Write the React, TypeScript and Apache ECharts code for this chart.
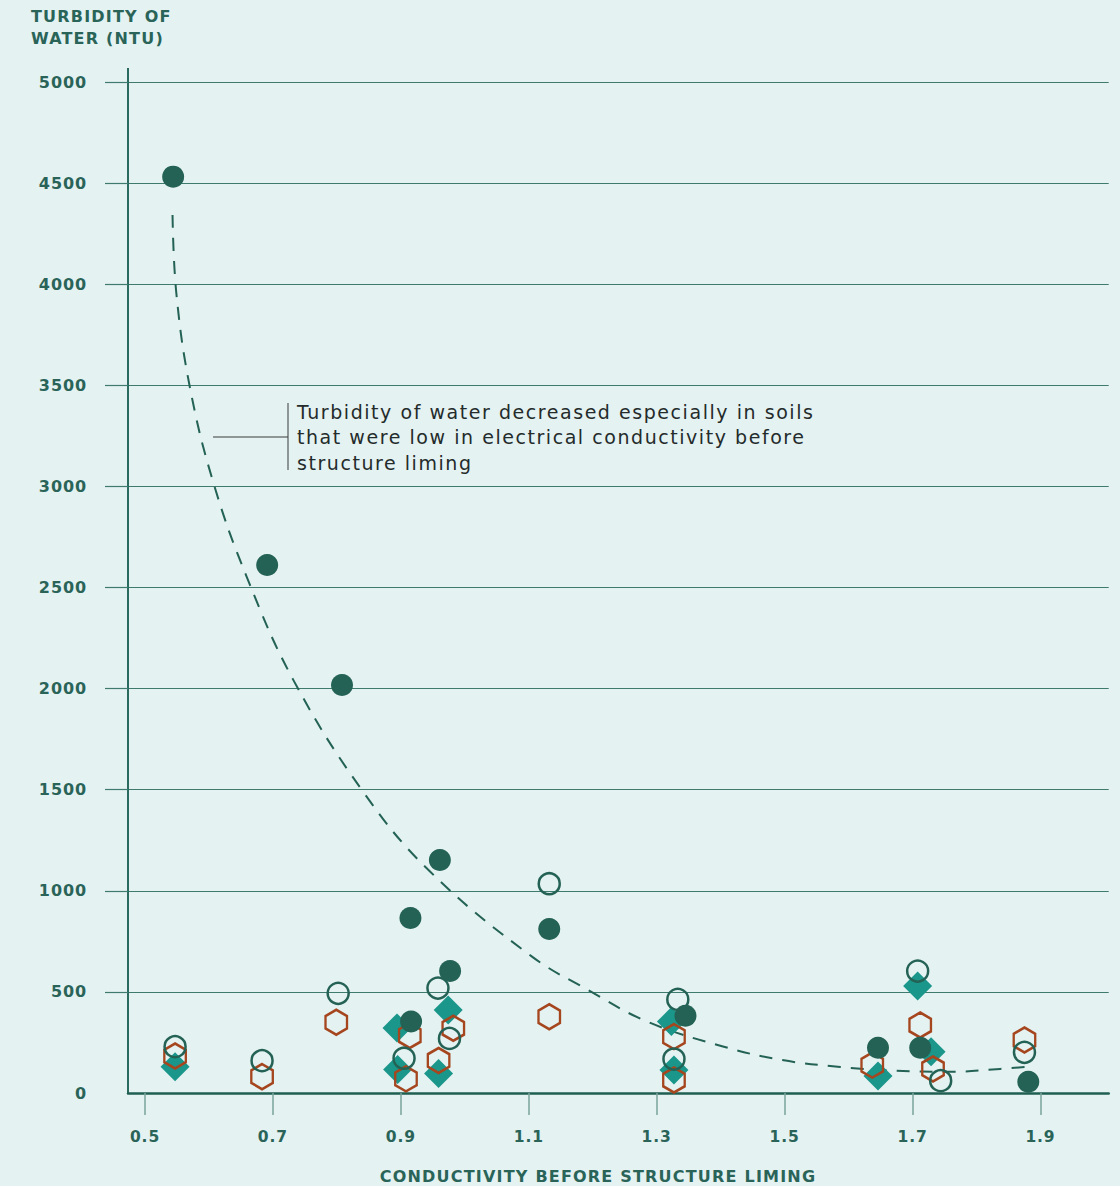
import React, { useEffect, useRef } from "react";
import * as echarts from "echarts";

// ---- data ----
const xTicks = [0.5, 0.7, 0.9, 1.1, 1.3, 1.5, 1.7, 1.9];
const yGridTicks = [500, 1000, 1500, 2000, 2500, 3000, 3500, 4000, 4500, 5000];

// filled dark circles
const filledPts = [
  [0.544, 4532], [0.691, 2611], [0.808, 2018], [0.961, 1152], [0.915, 865],
  [1.132, 811], [0.977, 603], [0.916, 354], [1.345, 382], [1.646, 224],
  [1.712, 224], [1.881, 56],
];
// open circles
const openPts = [
  [0.547, 229], [0.683, 160], [0.802, 493], [0.905, 172], [0.958, 519],
  [0.976, 270], [1.132, 1035], [1.333, 463], [1.327, 168], [1.708, 603],
  [1.744, 61], [1.875, 201],
];
// teal diamonds
const diamondPts = [
  [0.547, 130], [0.894, 322], [0.895, 116], [0.974, 410], [0.959, 97],
  [1.323, 353], [1.327, 114], [1.646, 84], [1.708, 529], [1.729, 204],
];
// orange hexagons
const hexPts = [
  [0.547, 183], [0.683, 81], [0.799, 350], [0.914, 284], [0.908, 70],
  [0.982, 320], [0.959, 161], [1.132, 377], [1.327, 279], [1.327, 64],
  [1.637, 138], [1.712, 336], [1.732, 119], [1.875, 262],
];
// dashed trend curve, sampled along the drawn line
const trendX = [
  0.543, 0.549, 0.570, 0.607, 0.659, 0.732, 0.841, 0.946, 1.104, 1.193,
  1.286, 1.405, 1.496, 1.587, 1.673, 1.757, 1.837, 1.877,
];
const trendY = [
  4342, 3955, 3493, 3017, 2553, 2042, 1490, 1094, 677, 509,
  352, 229, 163, 129, 110, 105, 119, 129,
];

const yTitle = "TURBIDITY OF\nWATER (NTU)";
const xTitle = "CONDUCTIVITY BEFORE STRUCTURE LIMING";
const noteLines = [
  "Turbidity of water decreased especially in soils",
  "that were low in electrical conductivity before",
  "structure liming",
];

const BG = "#e4f2f2";
const DARK = "#236255";
const TEAL = "#1a968a";
const ORANGE = "#a5461f";
const GRID = "#3f7a6e";
const LABEL = "#2a6459";
const FONT = "DejaVu Sans";
const HEX =
  "path://M0,-1L0.866,-0.5L0.866,0.5L0,1L-0.866,0.5L-0.866,-0.5Z";

function applySpacing(root: HTMLElement) {
  const titleLines = [xTitle, ...yTitle.split("\n")];
  root.querySelectorAll("text").forEach((t) => {
    const s = (t.textContent || "").trim();
    let ls = 0;
    if (noteLines.includes(s)) ls = 1.55;
    else if (titleLines.includes(s)) ls = 1.2;
    else if (/^[0-9.]+$/.test(s)) ls = 0.9;
    if (ls) t.setAttribute("letter-spacing", String(ls));
  });
}

export default function App() {
  const ref = useRef<HTMLDivElement>(null);

  useEffect(() => {
    document.body.style.margin = "0";
    const el = ref.current!;
    const chart = echarts.init(el, null, { renderer: "svg" });
    const scatterBase = { silent: true, emphasis: { disabled: true } };
    chart.setOption({
      animation: false,
      backgroundColor: BG,
      grid: {
        left: 128,
        right: 11.3,
        top: 82,
        bottom: 93,
        containLabel: false,
        outerBoundsMode: "none",
      },
      xAxis: {
        type: "value",
        min: 0.4734,
        max: 2.0067,
        axisLine: { show: true, lineStyle: { color: "#1f5f52", width: 2.5 } },
        axisTick: {
          show: true,
          customValues: xTicks,
          length: 22,
          lineStyle: { color: "#7aa39b", width: 1.5 },
        },
        axisLabel: {
          customValues: xTicks,
          margin: 36,
          color: LABEL,
          fontFamily: FONT,
          fontWeight: "bold",
          fontSize: 15.5,
          formatter: (v: number) => v.toFixed(1),
        },
        splitLine: { show: false },
      },
      yAxis: {
        type: "value",
        min: 0,
        max: 5000,
        interval: 500,
        axisLine: { show: true, lineStyle: { color: "#2a6a5f", width: 2 } },
        axisTick: {
          show: true,
          customValues: yGridTicks,
          length: 23,
          lineStyle: { color: GRID, width: 1.2 },
        },
        axisLabel: {
          margin: 41,
          color: LABEL,
          fontFamily: FONT,
          fontWeight: "bold",
          fontSize: 16,
          formatter: (v: number) => String(v),
        },
        splitLine: { show: true, lineStyle: { color: GRID, width: 1.2 } },
      },
      series: [
        {
          type: "line",
          data: trendX.map((x, i) => [x, trendY[i]]),
          smooth: 0.4,
          symbol: "none",
          silent: true,
          lineStyle: { type: [13, 10], width: 2, color: DARK },
          z: 1,
        },
        {
          ...scatterBase,
          type: "scatter",
          data: diamondPts,
          symbol: "diamond",
          symbolSize: [29, 29],
          itemStyle: { color: TEAL, opacity: 1 },
          z: 2,
        },
        {
          ...scatterBase,
          type: "scatter",
          data: hexPts,
          symbol: HEX,
          symbolSize: [21.5, 25],
          itemStyle: {
            color: "transparent",
            borderColor: ORANGE,
            borderWidth: 2.5,
            opacity: 1,
          },
          z: 3,
        },
        {
          ...scatterBase,
          type: "scatter",
          data: openPts,
          symbol: "circle",
          symbolSize: 21,
          itemStyle: {
            color: "transparent",
            borderColor: DARK,
            borderWidth: 2.5,
            opacity: 1,
          },
          z: 4,
        },
        {
          ...scatterBase,
          type: "scatter",
          data: filledPts,
          symbol: "circle",
          symbolSize: 22,
          itemStyle: { color: DARK, opacity: 1 },
          z: 5,
        },
      ],
      graphic: [
        {
          type: "line",
          shape: { x1: 128, y1: 68, x2: 128, y2: 82 },
          style: { stroke: "#2a6a5f", lineWidth: 2 },
          silent: true,
        },
        {
          type: "text",
          x: 31,
          y: 5,
          style: {
            text: yTitle,
            font: `bold 16px "${FONT}"`,
            fill: LABEL,
            lineHeight: 22,
          },
          silent: true,
        },
        {
          type: "text",
          x: 598,
          y: 1176,
          style: {
            text: xTitle,
            font: `bold 16px "${FONT}"`,
            fill: LABEL,
            textAlign: "center",
            textVerticalAlign: "middle",
          },
          silent: true,
        },
        {
          type: "line",
          shape: { x1: 288, y1: 403, x2: 288, y2: 470 },
          style: { stroke: "#3a3a3a", lineWidth: 1 },
          silent: true,
        },
        {
          type: "line",
          shape: { x1: 213, y1: 437, x2: 288, y2: 437 },
          style: { stroke: "#3a3a3a", lineWidth: 1 },
          silent: true,
        },
        {
          type: "text",
          x: 297,
          y: 399,
          style: {
            text: noteLines.join("\n"),
            font: `19px "${FONT}"`,
            fill: "#242b2b",
            lineHeight: 25.5,
          },
          silent: true,
        },
      ],
    });
    applySpacing(el);
    const onFinished = () => applySpacing(el);
    chart.on("finished", onFinished);
    const timer = window.setTimeout(() => applySpacing(el), 50);
    return () => {
      window.clearTimeout(timer);
      chart.dispose();
    };
  }, []);

  return <div ref={ref} style={{ width: 1120, height: 1186, background: BG }} />;
}
